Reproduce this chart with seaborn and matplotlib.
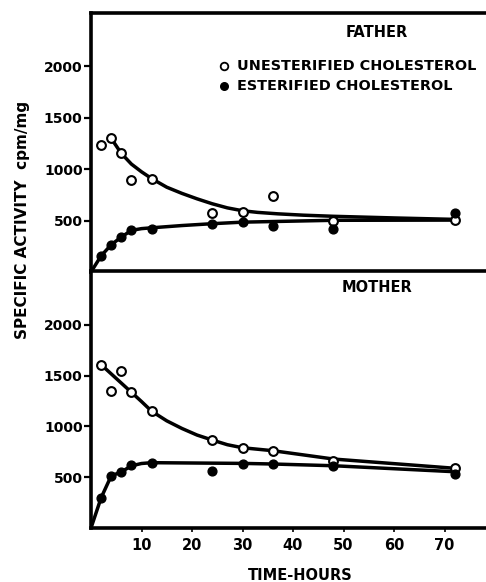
import numpy as np
import pandas as pd
import seaborn as sns
import matplotlib.pyplot as plt

# sampled points (hours after dose)
hours = [2, 4, 6, 8, 12, 24, 30, 36, 48, 72]
father_free = [1238, 1300, 1154, 892, 909, 575, 581, 738, 493, 503]
father_ester = [157, 265, 340, 412, 422, 467, 487, 451, 419, 575]
mother_free = [1608, 1353, 1549, 1336, 1150, 863, 787, 758, 659, 591]
mother_ester = [297, 513, 552, 618, 640, 559, 634, 634, 608, 536]

# hand drawn fitted curves
ff_curve_h = [4, 6, 8, 10, 12, 15, 18, 21, 24, 27, 30, 33, 37, 42, 48, 60, 72]
ff_curve_v = [1300, 1154, 1050, 975, 909, 825, 765, 712, 664, 624, 596, 580, 566, 553, 542, 526, 512]
fe_curve_h = [0, 2, 4, 6, 8, 10, 12, 18, 24, 30, 48, 72]
fe_curve_v = [0, 157, 265, 340, 405, 422, 430, 452, 470, 485, 503, 505]
mf_curve_h = [2, 8, 10, 12, 15, 18, 21, 24, 27, 30, 36, 48, 72]
mf_curve_v = [1608, 1336, 1245, 1150, 1055, 980, 915, 866, 820, 790, 761, 679, 588]
me_curve_h = [0, 2, 4, 6, 8, 10, 12, 30, 36, 48, 72]
me_curve_v = [0, 297, 513, 552, 612, 635, 643, 636, 630, 613, 554]

yticks = [500, 1000, 1500, 2000]
xticks = [10, 20, 30, 40, 50, 60, 70]

sns.set_style("white")
plt.rcParams['font.family'] = ['DejaVu Sans']
plt.rcParams['font.weight'] = 'bold'
plt.rcParams['text.color'] = 'black'
plt.rcParams['xtick.color'] = 'black'
plt.rcParams['ytick.color'] = 'black'
plt.rcParams['xtick.labelcolor'] = 'black'
plt.rcParams['ytick.labelcolor'] = 'black'

W, H = 486, 582
fig = plt.figure(figsize=(W / 100, H / 100), dpi=100)

def px_axes(left, top, right, bottom):
    return fig.add_axes([left / W, 1 - bottom / H, (right - left) / W, (bottom - top) / H])

ax1 = px_axes(91, 13, 491, 272)
ax2 = px_axes(91, 271, 491, 528)

panels = [
    (ax1, father_free, father_ester, ff_curve_h, ff_curve_v, fe_curve_h, fe_curve_v, 'FATHER', 2520),
    (ax2, mother_free, mother_ester, mf_curve_h, mf_curve_v, me_curve_h, me_curve_v, 'MOTHER', 2530),
]

for ax, free, ester, fh, fv, eh, ev, name, ytop in panels:
    sns.lineplot(x=fh, y=fv, ax=ax, color='black', linewidth=2.5, zorder=2)
    sns.lineplot(x=eh, y=ev, ax=ax, color='black', linewidth=2.5, zorder=2)
    sns.scatterplot(x=hours, y=free, ax=ax, s=40, facecolor='white',
                    edgecolor='black', linewidth=1.5, zorder=3)
    sns.scatterplot(x=hours, y=ester, ax=ax, s=40, color='black',
                    edgecolor='black', linewidth=1.0, zorder=4)
    ax.set_xlim(0, 400 / 5.05)
    ax.set_ylim(0, ytop)
    ax.set_yticks(yticks)
    ax.set_yticklabels([str(v) for v in yticks], fontsize=10, fontweight='bold')
    ax.tick_params(axis='y', left=True, direction='out', length=5, width=1.6, pad=1)
    ax.set_xlabel('')
    ax.set_ylabel('')
    for side in ['left', 'top', 'bottom']:
        ax.spines[side].set_linewidth(2.6)
        ax.spines[side].set_color('black')
    ax.spines['right'].set_visible(False)
    ax.text(0.715, 0.925 if name == 'FATHER' else 0.935, name, transform=ax.transAxes,
            ha='center', va='center', fontsize=10.5, fontweight='bold')

ax1.set_xticks([])
ax2.set_xticks(xticks)
ax2.set_xticklabels([str(v) for v in xticks], fontsize=10.5, fontweight='bold')
ax2.tick_params(axis='x', bottom=True, direction='out', length=3, width=1.2, pad=4)

# legend in the father panel
ax1.scatter([26.3], [2000], s=30, facecolor='white', edgecolor='black', linewidth=1.3,
            clip_on=False)
ax1.scatter([26.3], [1810], s=30, color='black', clip_on=False)
ax1.text(29.0, 2000, 'UNESTERIFIED CHOLESTEROL', fontsize=10.4, fontweight='bold',
         va='center', ha='left')
ax1.text(29.0, 1810, 'ESTERIFIED CHOLESTEROL', fontsize=10.4, fontweight='bold',
         va='center', ha='left')

fig.text(23 / W, 1 - 220 / H, 'SPECIFIC ACTIVITY  cpm/mg', rotation=90,
         ha='center', va='center', fontsize=11, fontweight='bold')
fig.text(300 / W, 1 - 575 / H, 'TIME-HOURS', ha='center', va='center',
         fontsize=10.5, fontweight='bold')

fig.savefig('out.png', dpi=100, facecolor='white')
